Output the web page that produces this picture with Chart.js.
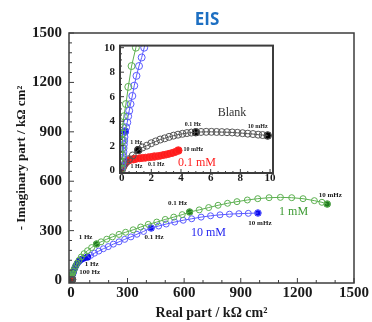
<!DOCTYPE html>
<html>
<head>
<meta charset="utf-8">
<script src="https://cdn.jsdelivr.net/npm/chart.js@4.4.0/dist/chart.umd.min.js"></script>
<style>
  html, body { margin: 0; padding: 0; background: #fff; }
  #wrap { position: relative; width: 372px; height: 322px; overflow: hidden; }
  #main { position: absolute; left: 0; top: 0; }
  #inset { position: absolute; left: 96px; top: 34px; }
</style>
</head>
<body>
<div id="wrap">
  <canvas id="main" width="372" height="322"></canvas>
  <canvas id="inset" width="184" height="154"></canvas>
</div>
<script>
// ── Nyquist data: [Z', -Z''] in kΩ cm² ─────────────────

const xTicks = [0, 300, 600, 900, 1200, 1500];
const yTicks = [0, 300, 600, 900, 1200, 1500];
const insetTicks = [0, 2, 4, 6, 8, 10];

// Blank
const blank = [
  [0.05, 0.15], [0.15, 0.4], [0.3, 0.65], [0.5, 0.9], [0.75, 1.2], [1.12, 1.64],
  [1.4, 1.85], [1.7, 2.0], [2.0, 2.2], [2.3, 2.35], [2.6, 2.5], [2.9, 2.6],
  [3.2, 2.72], [3.5, 2.82], [3.8, 2.9], [4.1, 2.97], [4.4, 3.03], [4.7, 3.07],
  [5.0, 3.1], [5.35, 3.12], [5.7, 3.13], [6.05, 3.13], [6.4, 3.12], [6.75, 3.11],
  [7.1, 3.1], [7.45, 3.08], [7.8, 3.05], [8.15, 3.02], [8.5, 2.98], [8.85, 2.95],
  [9.2, 2.9], [9.5, 2.87], [9.84, 2.83],
];

// 0.1 mM
const conc01 = [
  [0.05, 0.1], [0.1, 0.3], [0.2, 0.5], [0.3, 0.65], [0.45, 0.78], [0.6, 0.85],
  [0.8, 0.9], [1.0, 0.94], [1.2, 0.97], [1.4, 1.0], [1.6, 1.02], [1.8, 1.05],
  [2.0, 1.08], [2.2, 1.11], [2.4, 1.14], [2.6, 1.18], [2.8, 1.23], [3.0, 1.28],
  [3.2, 1.34], [3.4, 1.4], [3.6, 1.48], [3.82, 1.6],
];

// 1 mM
const conc1 = [
  [0.02, 0.1], [0.03, 0.6], [0.04, 1.2], [0.05, 1.8], [0.06, 2.4], [0.07, 3.0],
  [0.08, 3.5], [0.15, 4.4], [0.29, 5.4], [0.45, 6.8], [0.67, 8.5], [0.96, 10],
  [1.2, 11.5], [1.6, 13.5], [2.2, 16], [3, 20], [4.5, 26], [6.5, 33], [9, 42],
  [13, 54], [18, 68], [25, 85], [33, 102], [43, 120], [55, 140], [70, 160],
  [88, 178], [110, 197], [136, 219], [160, 232], [190, 248], [220, 262],
  [255, 277], [290, 290], [330, 305], [370, 322], [410, 338], [455, 352],
  [500, 368], [545, 382], [590, 397], [629, 413], [680, 426], [730, 440],
  [780, 454], [830, 466], [880, 476], [935, 486], [990, 494], [1050, 500],
  [1110, 502], [1170, 500], [1230, 494], [1290, 482], [1330, 472], [1358, 461],
];

// 10 mM
const conc10 = [
  [0.02, 0.05], [0.05, 0.3], [0.07, 0.6], [0.09, 0.9], [0.1, 1.2], [0.12, 1.5],
  [0.13, 1.8], [0.15, 2.1], [0.17, 2.4], [0.19, 2.7], [0.22, 3.15], [0.3, 3.5],
  [0.38, 3.9], [0.44, 4.4], [0.51, 4.85], [0.6, 5.4], [0.72, 6.06], [0.85, 6.9],
  [1.0, 7.7], [1.17, 8.5], [1.35, 9.2], [1.52, 10], [1.7, 10.8], [2.2, 13],
  [3, 17], [4.5, 24], [6, 30], [8, 35], [10, 40], [13, 50], [17, 62], [22, 76],
  [28, 90], [35, 103], [44, 115], [55, 125], [70, 133], [89, 140], [105, 150],
  [125, 163], [148, 176], [172, 190], [198, 203], [225, 218], [255, 232],
  [285, 247], [318, 262], [350, 278], [385, 295], [425, 316], [465, 328],
  [505, 340], [550, 352], [595, 363], [640, 372], [690, 382], [740, 390],
  [790, 396], [840, 400], [890, 403], [940, 405], [991, 407],
];

// filled points at the marked frequencies
const blankMarks = [[1.12, 1.64], [5.0, 3.1], [9.84, 2.83]];
const blankMarkText = ['1 Hz', '0.1 Hz', '10 mHz'];
const conc01Marks = [[0.8, 0.9], [2.2, 1.11], [3.82, 1.6]];
const conc01MarkText = ['1 Hz', '0.1 Hz', '10 mHz'];
const conc1Marks = [[136, 219], [629, 413], [1358, 461]];
const conc1MarkText = ['1 Hz', '0.1 Hz', '10 mHz'];
const conc10Marks = [[0.22, 3.15], [10, 40], [89, 140], [425, 316], [991, 407]];
const conc10MarkText = ['', '100 Hz', '1 Hz', '0.1 Hz', '10 mHz'];

// ── Styling ─────────────────────────────────────────────

const COLORS = {
  blank: '#555555', blankFill: '#000000',
  c01: '#ff2a2a', c01Fill: '#ff1a1a',
  c1: '#5cb050', c1Fill: '#1f7a1f',
  c10: '#5a5aff', c10Fill: '#0a0aee',
  frame: '#3c3c3c', text: '#1a1a1a',
};
const SERIF = "'Liberation Serif', 'Times New Roman', serif";

const toXY = arr => arr.map(([x, y]) => ({ x, y }));
const plainTick = v => String(v);

function curve(data, color, radius, fill) {
  return {
    data: toXY(data),
    showLine: true,
    borderColor: color,
    borderWidth: 1,
    pointRadius: radius,
    pointBorderWidth: 1,
    pointBorderColor: color,
    pointBackgroundColor: fill || 'rgba(255,255,255,0)',
  };
}

function marks(data, color, radius) {
  return {
    data: toXY(data),
    showLine: false,
    pointRadius: radius,
    pointBorderWidth: 0,
    pointBackgroundColor: color,
  };
}

// frame + inward ticks, drawn through the chart's own scales
function framePlugin(cfg) {
  return {
    id: 'frame',
    beforeDatasetsDraw(chart) {
      if (!cfg.whiteArea) return;
      const a = chart.chartArea, ctx = chart.ctx;
      ctx.save();
      ctx.fillStyle = '#fff';
      ctx.fillRect(a.left, a.top, a.right - a.left, a.bottom - a.top);
      ctx.restore();
    },
    afterDatasetsDraw(chart) {
      const a = chart.chartArea, ctx = chart.ctx;
      const sx = chart.scales.x, sy = chart.scales.y;
      ctx.save();
      ctx.strokeStyle = COLORS.frame;
      ctx.lineWidth = 1;
      ctx.beginPath();
      for (let v = cfg.xMin; v <= cfg.xMax + 1e-9; v += cfg.xMinor) {
        const px = sx.getPixelForValue(v);
        const major = Math.abs(v / cfg.xMajor - Math.round(v / cfg.xMajor)) < 1e-6;
        ctx.moveTo(px, a.bottom);
        ctx.lineTo(px, a.bottom - (major ? cfg.tickMajor : cfg.tickMinor));
      }
      for (let v = cfg.yMin; v <= cfg.yMax + 1e-9; v += cfg.yMinor) {
        const py = sy.getPixelForValue(v);
        const major = Math.abs(v / cfg.yMajor - Math.round(v / cfg.yMajor)) < 1e-6;
        ctx.moveTo(a.left, py);
        ctx.lineTo(a.left + (major ? cfg.tickMajor : cfg.tickMinor), py);
      }
      ctx.stroke();
      ctx.lineWidth = cfg.frameWidth;
      ctx.strokeRect(a.left, a.top, a.right - a.left, a.bottom - a.top);
      ctx.restore();
    },
  };
}

// frequency tags next to the filled points, and series names
function tagPlugin(groups, names, font) {
  return {
    id: 'tags',
    afterDraw(chart) {
      const ctx = chart.ctx, sx = chart.scales.x, sy = chart.scales.y;
      ctx.save();
      ctx.textAlign = 'center';
      ctx.textBaseline = 'middle';
      ctx.font = font;
      ctx.fillStyle = COLORS.text;
      groups.forEach(g => {
        g.pts.forEach(([x, y], i) => {
          if (!g.text[i]) return;
          const [dx, dy] = g.offsets[i];
          ctx.fillText(g.text[i], sx.getPixelForValue(x) + dx, sy.getPixelForValue(y) + dy);
        });
      });
      names.forEach(n => {
        ctx.font = n.font;
        ctx.fillStyle = n.color;
        ctx.fillText(n.text, sx.getPixelForValue(n.x), sy.getPixelForValue(n.y));
      });
      ctx.restore();
    },
  };
}

const titlePlugin = {
  id: 'eisTitle',
  afterDraw(chart) {
    const ctx = chart.ctx;
    ctx.save();
    ctx.font = "bold 17px 'Open Sans', sans-serif";
    ctx.fillStyle = '#1d6fc2';
    ctx.textAlign = 'center';
    ctx.textBaseline = 'middle';
    ctx.fillText('EIS', 207, 20);
    ctx.restore();
  },
};

// ── Main plot ───────────────────────────────────────────

new Chart(document.getElementById('main'), {
  type: 'scatter',
  data: {
    datasets: [
      curve(blank, COLORS.blank, 3),
      curve(conc01, COLORS.c01, 3, COLORS.c01Fill),
      curve(conc1, COLORS.c1, 3),
      Object.assign(curve(conc10, COLORS.c10, 3), {
        pointBackgroundColor: c => (c.raw && c.raw.y <= 140 ? COLORS.c10Fill : 'rgba(255,255,255,0)'),
        pointBorderColor: c => (c.raw && c.raw.y <= 140 ? COLORS.c10Fill : COLORS.c10),
      }),
      marks(conc1Marks, COLORS.c1Fill, 3.5),
      marks(conc10Marks, COLORS.c10Fill, 3.5),
    ],
  },
  options: {
    responsive: false,
    animation: false,
    layout: { padding: { left: 0, right: 15, top: 33, bottom: 0 } },
    plugins: { legend: { display: false }, tooltip: { enabled: false } },
    scales: {
      x: {
        type: 'linear', min: -10, max: 1500,
        afterFit: s => { s.height = 39; },
        afterBuildTicks: s => { s.ticks = xTicks.map(v => ({ value: v })); },
        grid: { display: false, drawTicks: false },
        border: { display: false },
        ticks: {
          padding: 3, color: COLORS.text, callback: plainTick,
          font: { family: SERIF, size: 15, weight: 'bold', lineHeight: 1 },
        },
        title: {
          display: true, text: 'Real part / kΩ cm²', color: COLORS.text,
          font: { family: SERIF, size: 14, weight: 'bold' }, padding: { top: 0, bottom: 0 },
        },
      },
      y: {
        type: 'linear', min: -18, max: 1500,
        afterFit: s => { s.width = 69; },
        afterBuildTicks: s => { s.ticks = yTicks.map(v => ({ value: v })); },
        grid: { display: false, drawTicks: false },
        border: { display: false },
        ticks: {
          padding: 7, color: COLORS.text, callback: plainTick,
          font: { family: SERIF, size: 15, weight: 'bold' },
        },
        title: {
          display: true, text: '- Imaginary part / kΩ cm²', color: COLORS.text,
          font: { family: SERIF, size: 13, weight: 'bold' }, padding: { top: 14, bottom: 0 },
        },
      },
    },
  },
  plugins: [
    framePlugin({
      xMin: 0, xMax: 1500, xMinor: 100, xMajor: 300,
      yMin: 0, yMax: 1500, yMinor: 60, yMajor: 300,
      tickMajor: 5, tickMinor: 3, frameWidth: 1.5,
    }),
    tagPlugin(
      [
        { pts: conc1Marks, text: conc1MarkText, offsets: [[-11, -7], [-12, -9], [3, -9]] },
        { pts: conc10Marks, text: conc10MarkText, offsets: [[0, 0], [17, -1], [4, 7], [3, 9], [2, 10]] },
      ],
      [
        { text: '1 mM', x: 1180, y: 413, color: '#3c9a32', font: `12px ${SERIF}` },
        { text: '10 mM', x: 729, y: 285, color: '#2525f0', font: `12px ${SERIF}` },
      ],
      `bold 7px ${SERIF}`
    ),
    titlePlugin,
  ],
});

// ── Inset: high-frequency region ────────────────────────

new Chart(document.getElementById('inset'), {
  type: 'scatter',
  data: {
    datasets: [
      curve(conc1, COLORS.c1, 3.5),
      curve(conc10, COLORS.c10, 3.5),
      curve(blank, COLORS.blank, 3.5),
      curve(conc01, COLORS.c01, 3.5, COLORS.c01Fill),
      marks(blankMarks, COLORS.blankFill, 4),
      marks(conc01Marks, COLORS.c01Fill, 4),
      marks(conc10Marks.slice(0, 1), COLORS.c10Fill, 4),
    ],
  },
  options: {
    responsive: false,
    animation: false,
    layout: { padding: { left: 0, right: 7, top: 2, bottom: 0 } },
    plugins: { legend: { display: false }, tooltip: { enabled: false } },
    scales: {
      x: {
        type: 'linear', min: -0.11, max: 10.2,
        afterFit: s => { s.height = 15; },
        afterBuildTicks: s => { s.ticks = insetTicks.map(v => ({ value: v })); },
        grid: { display: false, drawTicks: false },
        border: { display: false },
        ticks: {
          padding: 0, color: COLORS.text, callback: plainTick,
          font: { family: SERIF, size: 11, weight: 'bold', lineHeight: 1 },
        },
      },
      y: {
        type: 'linear', min: -0.23, max: 10.17,
        afterFit: s => { s.width = 24; },
        afterBuildTicks: s => { s.ticks = insetTicks.map(v => ({ value: v })); },
        grid: { display: false, drawTicks: false },
        border: { display: false },
        ticks: {
          padding: 5, color: COLORS.text, callback: plainTick,
          font: { family: SERIF, size: 11, weight: 'bold' },
        },
      },
    },
  },
  plugins: [
    framePlugin({
      xMin: 0, xMax: 10, xMinor: 0.5, xMajor: 2,
      yMin: 0, yMax: 10, yMinor: 0.5, yMajor: 2,
      tickMajor: 4, tickMinor: 2, frameWidth: 2, whiteArea: true,
    }),
    tagPlugin(
      [
        { pts: blankMarks, text: blankMarkText, offsets: [[-2, -8], [-3, -8], [-10, -9]] },
        { pts: conc01Marks, text: conc01MarkText, offsets: [[3, 7], [2, 8], [15, -1]] },
      ],
      [
        { text: 'Blank', x: 7.44, y: 4.7, color: '#333333', font: `12px ${SERIF}` },
        { text: '0.1 mM', x: 5.08, y: 0.6, color: '#ff2020', font: `12px ${SERIF}` },
      ],
      `bold 6px ${SERIF}`
    ),
  ],
});
</script>
</body>
</html>
